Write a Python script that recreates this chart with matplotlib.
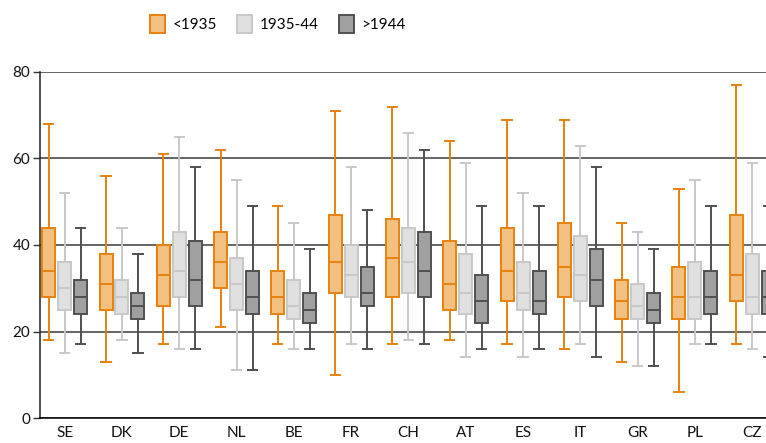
import matplotlib.pyplot as plt
from matplotlib.patches import Patch

plt.rcParams['font.family'] = ['Lato', 'DejaVu Sans']

countries = ['SE', 'DK', 'DE', 'NL', 'BE', 'FR', 'CH', 'AT', 'ES', 'IT', 'GR', 'PL', 'CZ']
groups = ['<1935', '1935-44', '>1944']

# whisker low, Q1, median, Q3, whisker high per country
g1_low = [18, 13, 17, 21, 17, 10, 17, 18, 17, 16, 13, 6, 17]
g1_q1 = [28, 25, 26, 30, 24, 29, 28, 25, 27, 28, 23, 23, 27]
g1_med = [34, 31, 33, 36, 28, 36, 37, 31, 34, 35, 27, 28, 33]
g1_q3 = [44, 38, 40, 43, 34, 47, 46, 41, 44, 45, 32, 35, 47]
g1_high = [68, 56, 61, 62, 49, 71, 72, 64, 69, 69, 45, 53, 77]

g2_low = [15, 18, 16, 11, 16, 17, 18, 14, 14, 17, 12, 17, 16]
g2_q1 = [25, 24, 28, 25, 23, 28, 29, 24, 25, 27, 23, 23, 24]
g2_med = [30, 28, 34, 31, 26, 33, 36, 29, 29, 33, 26, 28, 28]
g2_q3 = [36, 32, 43, 37, 32, 40, 44, 38, 36, 42, 31, 36, 38]
g2_high = [52, 44, 65, 55, 45, 58, 66, 59, 52, 63, 43, 55, 59]

g3_low = [17, 15, 16, 11, 16, 16, 17, 16, 16, 14, 12, 17, 14]
g3_q1 = [24, 23, 26, 24, 22, 26, 28, 22, 24, 26, 22, 24, 24]
g3_med = [28, 26, 32, 28, 25, 29, 34, 27, 27, 32, 25, 28, 28]
g3_q3 = [32, 29, 41, 34, 29, 35, 43, 33, 34, 39, 29, 34, 34]
g3_high = [44, 38, 58, 49, 39, 48, 62, 49, 49, 58, 39, 49, 49]

data = [
    (g1_low, g1_q1, g1_med, g1_q3, g1_high),
    (g2_low, g2_q1, g2_med, g2_q3, g2_high),
    (g3_low, g3_q1, g3_med, g3_q3, g3_high),
]

fills = ['#f2c080', '#e0e0e0', '#a0a0a0']
edges = ['#e8820c', '#c8c8c8', '#505050']
offsets = [-0.279, 0, 0.279]

fig = plt.figure(figsize=(7.66, 4.43), dpi=100)
ax = fig.add_axes([40 / 766, 1 - 418 / 443, 1 - 40 / 766, (418 - 72) / 443])

for k in range(3):
    lo, q1, med, q3, hi = data[k]
    stats = []
    for i in range(len(countries)):
        stats.append({'whislo': lo[i], 'q1': q1[i], 'med': med[i],
                      'q3': q3[i], 'whishi': hi[i], 'fliers': []})
    pos = [i + offsets[k] for i in range(len(countries))]
    lw = 1.4
    ax.bxp(stats, positions=pos, widths=0.227, patch_artist=True,
           showfliers=False, manage_ticks=False,
           boxprops=dict(facecolor=fills[k], edgecolor=edges[k], linewidth=lw),
           medianprops=dict(color=edges[k], linewidth=lw),
           whiskerprops=dict(color=edges[k], linewidth=lw),
           capprops=dict(color=edges[k], linewidth=lw),
           capwidths=0.16, zorder=3)

ax.set_xlim(-0.431, 12.24)
ax.set_ylim(0, 80)
ax.set_yticks([0, 20, 40, 60, 80])
ax.set_xticks(range(len(countries)))
ax.set_xticklabels(countries)
ax.tick_params(axis='x', length=0, pad=6, labelsize=11, colors='#111111')
ax.tick_params(axis='y', length=5, width=1.0, color='#333333', labelsize=11,
               colors='#111111', pad=2)
ax.grid(axis='y', color='#3a3a3a', linewidth=1.1, zorder=0)
ax.set_axisbelow(True)
ax.spines['top'].set_visible(False)
ax.spines['right'].set_visible(False)
ax.spines['left'].set_color('#222222')
ax.spines['bottom'].set_color('#000000')
ax.spines['left'].set_linewidth(1.1)
ax.spines['bottom'].set_linewidth(1.1)

handles = [Patch(facecolor=fills[k], edgecolor=edges[k], linewidth=1.4) for k in range(3)]
fig.legend(handles, groups, loc='center', bbox_to_anchor=(278 / 766, 1 - 24 / 443),
           ncol=3, frameon=False, fontsize=11, handlelength=1.0, handleheight=1.5,
           handletextpad=0.5, columnspacing=1.3)

fig.savefig('out.png', dpi=100)
